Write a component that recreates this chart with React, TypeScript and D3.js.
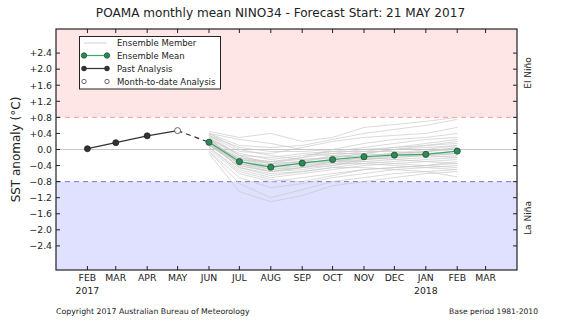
import React from "react";
import * as d3 from "d3";

const W = 561, H = 321;
const tickMonths = ["2017-02-01","2017-03-01","2017-04-01","2017-05-01","2017-06-01","2017-07-01","2017-08-01","2017-09-01","2017-10-01","2017-11-01","2017-12-01","2018-01-01","2018-02-01","2018-03-01"];
const tickLabels = ["FEB","MAR","APR","MAY","JUN","JUL","AUG","SEP","OCT","NOV","DEC","JAN","FEB","MAR"];
const yearLabels = [{ date: "2017-02-01", text: "2017" }, { date: "2018-01-01", text: "2018" }];
const yTicks = [2.4, 2.0, 1.6, 1.2, 0.8, 0.4, 0, -0.4, -0.8, -1.2, -1.6, -2.0, -2.4];

const pastDates = ["2017-02-01","2017-03-01","2017-04-01"];
const pastValues = [0.02, 0.17, 0.34];
const mtdDate = "2017-05-01";
const mtdValue = 0.47;

const fcDates = ["2017-06-01","2017-07-01","2017-08-01","2017-09-01","2017-10-01","2017-11-01","2017-12-01","2018-01-01","2018-02-01"];
const meanValues = [0.18, -0.30, -0.44, -0.34, -0.25, -0.18, -0.14, -0.12, -0.04];

const members: number[][] = [
  [0.45, 0.30, 0.40, 0.20, 0.30, 0.55, 0.62, 0.70, 0.80],
  [0.40, 0.10, 0.05, 0.10, 0.25, 0.40, 0.50, 0.60, 0.75],
  [0.35, -0.05, -0.10, 0.05, 0.20, 0.30, 0.35, 0.40, 0.55],
  [0.30, -0.20, -0.30, -0.20, 0.00, 0.15, 0.25, 0.30, 0.40],
  [0.25, -0.10, -0.25, -0.15, -0.05, 0.05, 0.15, 0.25, 0.30],
  [0.20, -0.25, -0.40, -0.30, -0.20, -0.10, 0.00, 0.10, 0.20],
  [0.15, -0.35, -0.50, -0.40, -0.30, -0.20, -0.10, 0.00, 0.10],
  [0.10, -0.40, -0.55, -0.50, -0.40, -0.30, -0.25, -0.20, -0.15],
  [0.05, -0.50, -0.70, -0.60, -0.50, -0.40, -0.35, -0.30, -0.25],
  [0.00, -0.60, -0.80, -0.70, -0.60, -0.50, -0.45, -0.40, -0.35],
  [-0.05, -0.85, -1.20, -1.00, -0.80, -0.70, -0.60, -0.55, -0.50],
  [-0.10, -1.05, -1.30, -1.15, -0.90, -0.80, -0.70, -0.60, -0.55],
  [0.20, -0.45, -0.60, -0.55, -0.45, -0.45, -0.50, -0.55, -0.68],
  [0.25, -0.30, -0.45, -0.40, -0.35, -0.35, -0.40, -0.45, -0.50],
  [0.10, -0.20, -0.35, -0.30, -0.30, -0.30, -0.35, -0.40, -0.45],
  [0.30, -0.15, -0.20, -0.10, -0.15, -0.20, -0.25, -0.30, -0.35],
  [0.35, 0.05, -0.05, -0.05, -0.10, -0.10, -0.15, -0.15, -0.20],
  [0.40, 0.25, 0.15, 0.00, -0.05, -0.05, -0.05, -0.10, -0.10],
  [0.15, -0.30, -0.50, -0.45, -0.35, -0.25, -0.15, -0.05, 0.05],
  [0.20, -0.35, -0.45, -0.35, -0.25, -0.15, -0.10, -0.05, 0.00],
  [0.05, -0.55, -0.75, -0.80, -0.65, -0.50, -0.45, -0.40, -0.30],
  [0.25, -0.25, -0.35, -0.20, -0.10, 0.00, 0.05, 0.10, 0.15],
  [0.30, -0.40, -0.55, -0.45, -0.30, -0.20, -0.15, -0.10, -0.05],
  [0.10, -0.35, -0.55, -0.45, -0.40, -0.25, -0.20, -0.15, -0.10],
  [0.20, -0.25, -0.30, -0.25, -0.20, -0.15, -0.10, -0.05, 0.05],
  [0.40, 0.00, -0.15, -0.25, -0.20, -0.10, 0.00, 0.05, 0.10],
  [0.15, -0.45, -0.65, -0.55, -0.45, -0.35, -0.30, -0.25, -0.20],
  [0.10, -0.30, -0.40, -0.35, -0.30, -0.25, -0.20, -0.15, -0.10],
  [0.35, -0.15, -0.35, -0.30, -0.15, -0.05, 0.05, 0.15, 0.25],
  [-0.05, -0.70, -0.95, -0.85, -0.70, -0.60, -0.50, -0.45, -0.40],
];

const FONT = "DejaVu Sans, sans-serif";
const fmtY = (v: number) => (v > 0 ? "+" : v < 0 ? "\u2212" : "") + Math.abs(v).toFixed(1);

export default function App() {
  const left = 56, right = 517, top = 29, bottom = 270;
  const pd = d3.utcParse("%Y-%m-%d");
  const x = d3.scaleUtc().domain([pd("2017-01-01")!, pd("2018-04-01")!]).range([left, right]);
  const y = d3.scaleLinear().domain([-3, 3]).range([bottom, top]);
  const line = d3.line<[Date, number]>().x(d => x(d[0])).y(d => y(d[1]));
  const fc = fcDates.map(s => pd(s)!);
  const past = pastDates.map(s => pd(s)!);

  return (
    <svg width={W} height={H} style={{ position: "absolute", left: 0, top: 0 }} fontFamily={FONT}>
      <rect x={0} y={0} width={W} height={H} fill="#fff" />
      <text x={280.5} y={17} textAnchor="middle" fontSize={12.1} fill="#222">POAMA monthly mean NINO34 - Forecast Start: 21 MAY 2017</text>
      {/* regions */}
      <rect x={left} y={top} width={right - left} height={y(0.8) - top} fill="#ffe6e6" />
      <rect x={left} y={y(-0.8)} width={right - left} height={bottom - y(-0.8)} fill="#e0e0ff" />
      <line x1={left} x2={right} y1={y(0)} y2={y(0)} stroke="#c8c8c8" strokeWidth={1} />
      <line x1={left} x2={right} y1={y(0.8)} y2={y(0.8)} stroke="#ff9999" strokeWidth={1} strokeDasharray="5,4" />
      <line x1={left} x2={right} y1={y(-0.8)} y2={y(-0.8)} stroke="#7777dd" strokeWidth={1} strokeDasharray="5,4" />
      {/* members */}
      {members.map((m, i) => (
        <path key={i} d={line(m.map((v, j) => [fc[j], v]))!} fill="none" stroke="#c8c8c8" strokeWidth={0.8} opacity={0.85} />
      ))}
      {/* past analysis */}
      <path d={line([...past.map((d, i) => [d, pastValues[i]] as [Date, number]), [pd(mtdDate)!, mtdValue]])!} fill="none" stroke="#333" strokeWidth={1.2} />
      <path d={line([[pd(mtdDate)!, mtdValue], [fc[0], meanValues[0]]])!} fill="none" stroke="#333" strokeWidth={1.2} strokeDasharray="5,4" />
      {past.map((d, i) => <circle key={i} cx={x(d)} cy={y(pastValues[i])} r={3} fill="#333" stroke="#222" strokeWidth={0.8} />)}
      <circle cx={x(pd(mtdDate)!)} cy={y(mtdValue)} r={3} fill="#fff" stroke="#444" strokeWidth={0.8} />
      {/* mean */}
      <path d={line(fc.map((d, i) => [d, meanValues[i]]))!} fill="none" stroke="#3daa6a" strokeWidth={1.2} />
      {fc.map((d, i) => <circle key={i} cx={x(d)} cy={y(meanValues[i])} r={3.1} fill="#2e8b57" stroke="#1d4d33" strokeWidth={0.8} />)}
      {/* frame */}
      <rect x={left} y={top} width={right - left} height={bottom - top} fill="none" stroke="#222" strokeWidth={1.2} />
      {/* ticks */}
      {yTicks.map(v => (
        <g key={v}>
          <line x1={left} x2={left + 4} y1={y(v)} y2={y(v)} stroke="#222" />
          <line x1={right - 4} x2={right} y1={y(v)} y2={y(v)} stroke="#222" />
          <text x={left - 4} y={y(v) + 3.3} textAnchor="end" fontSize={9.3} fill="#222">{fmtY(v)}</text>
        </g>
      ))}
      {tickMonths.map((s, i) => {
        const xx = x(pd(s)!);
        return (
          <g key={s}>
            <line x1={xx} x2={xx} y1={bottom} y2={bottom - 4} stroke="#222" />
            <line x1={xx} x2={xx} y1={top} y2={top + 4} stroke="#222" />
            <text x={xx} y={281} textAnchor="middle" fontSize={9.3} fill="#222">{tickLabels[i]}</text>
          </g>
        );
      })}
      {yearLabels.map(yl => (
        <text key={yl.text} x={x(pd(yl.date)!)} y={294} textAnchor="middle" fontSize={9.3} fill="#222">{yl.text}</text>
      ))}
      {/* axis label */}
      <text transform={`translate(20,${(top + bottom) / 2}) rotate(-90)`} textAnchor="middle" fontSize={12} fill="#222">SST anomaly (°C)</text>
      <text transform={`translate(531,73) rotate(-90)`} textAnchor="middle" fontSize={9} fill="#222">El Niño</text>
      <text transform={`translate(531,218) rotate(-90)`} textAnchor="middle" fontSize={9} fill="#222">La Niña</text>
      {/* legend */}
      <rect x={79.5} y={36.5} width={141} height={52.5} fill="#fff" stroke="#222" strokeWidth={1} />
      <line x1={84} x2={107} y1={43} y2={43} stroke="#d0d0d0" strokeWidth={1} />
      <text x={117} y={46} fontSize={8.5} fill="#222">Ensemble Member</text>
      <line x1={84} x2={107} y1={55.5} y2={55.5} stroke="#3daa6a" strokeWidth={1.2} />
      <circle cx={84} cy={55.5} r={2.7} fill="#2e8b57" stroke="#1d4d33" strokeWidth={0.8} />
      <circle cx={107} cy={55.5} r={2.7} fill="#2e8b57" stroke="#1d4d33" strokeWidth={0.8} />
      <text x={117} y={58.5} fontSize={8.5} fill="#222">Ensemble Mean</text>
      <line x1={84} x2={107} y1={68.5} y2={68.5} stroke="#333" strokeWidth={1.2} />
      <circle cx={84} cy={68.5} r={2.7} fill="#333" />
      <circle cx={107} cy={68.5} r={2.7} fill="#333" />
      <text x={117} y={71.5} fontSize={8.5} fill="#222">Past Analysis</text>
      <circle cx={84} cy={81.5} r={2.2} fill="#fff" stroke="#444" strokeWidth={0.8} />
      <circle cx={107} cy={81.5} r={2.2} fill="#fff" stroke="#444" strokeWidth={0.8} />
      <text x={117} y={84.5} fontSize={8.5} fill="#222">Month-to-date Analysis</text>
      {/* footer */}
      <text x={56} y={314} fontSize={7.8} fill="#222">Copyright 2017 Australian Bureau of Meteorology</text>
      <text x={538} y={314} textAnchor="end" fontSize={7.6} fill="#222">Base period 1981-2010</text>
    </svg>
  );
}
